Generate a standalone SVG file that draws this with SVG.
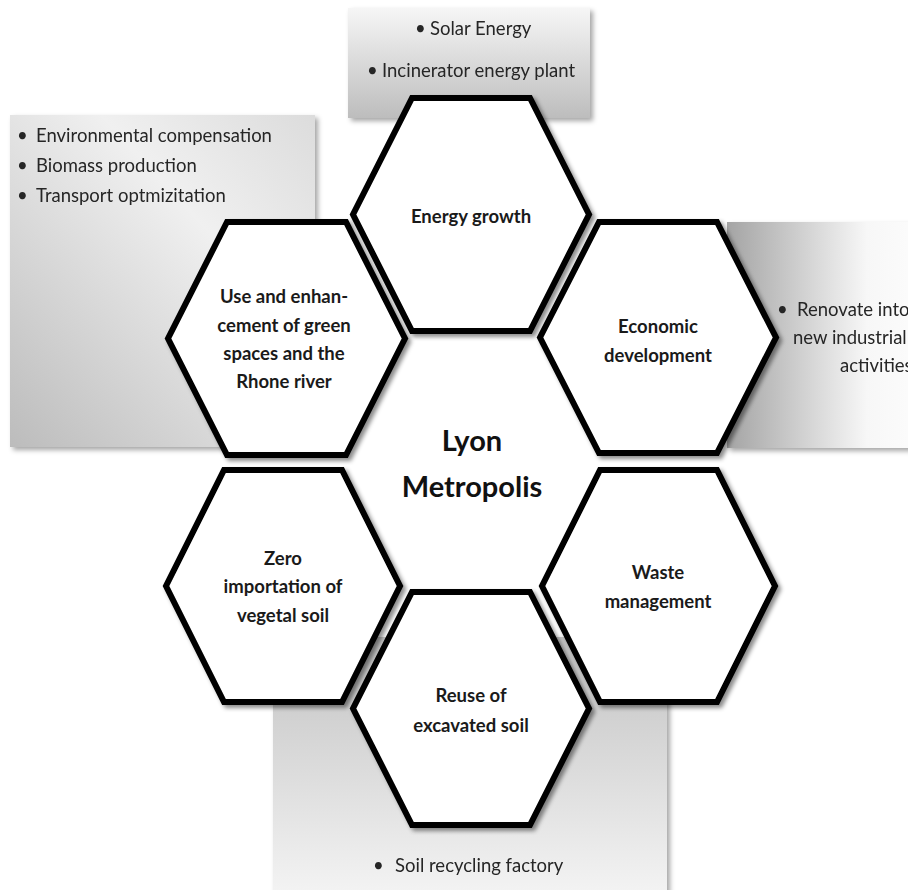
<svg xmlns="http://www.w3.org/2000/svg" width="908" height="890" viewBox="0 0 908 890">
<style>
.hex{fill:#ffffff;stroke:#000000;stroke-width:6;stroke-linejoin:miter;filter:url(#hs)}
.lbl{font-family:Lato,"Open Sans","Liberation Sans",sans-serif;font-weight:bold;font-size:18.5px;fill:#1a1a1a;text-anchor:middle}
.ctr{font-family:Lato,"Open Sans","Liberation Sans",sans-serif;font-weight:bold;font-size:29px;fill:#111111;text-anchor:middle}
.bul{font-family:Lato,"Open Sans","Liberation Sans",sans-serif;font-size:18.5px;fill:#262626}
.box{filter:url(#bs)}
</style>
<defs>
<filter id="hs" x="-10%" y="-10%" width="125%" height="125%">
<feDropShadow dx="3" dy="3" stdDeviation="2" flood-color="#000" flood-opacity="0.45"/>
</filter>
<filter id="bs" x="-5%" y="-5%" width="115%" height="115%">
<feDropShadow dx="3" dy="3" stdDeviation="2.5" flood-color="#000" flood-opacity="0.35"/>
</filter>
<linearGradient id="gTop" x1="0" y1="0" x2="0" y2="1">
<stop offset="0" stop-color="#f6f6f6"/><stop offset="1" stop-color="#bdbdbd"/>
</linearGradient>
<linearGradient id="gLeft" x1="0" y1="1" x2="1" y2="0">
<stop offset="0" stop-color="#bcbcbc"/><stop offset="0.65" stop-color="#f0f0f0"/><stop offset="1" stop-color="#dcdcdc"/>
</linearGradient>
<linearGradient id="gRight" x1="0" y1="0" x2="1" y2="0">
<stop offset="0" stop-color="#a4a4a4"/><stop offset="0.7" stop-color="#f7f7f7"/><stop offset="1" stop-color="#fdfdfd"/>
</linearGradient>
<linearGradient id="gBot" x1="0" y1="0" x2="0" y2="1">
<stop offset="0" stop-color="#c2c2c2"/><stop offset="1" stop-color="#f4f4f4"/>
</linearGradient>
</defs>
<rect width="908" height="890" fill="#ffffff"/>

<g id="box-energy" class="box">
<rect x="348" y="8" width="242" height="110" fill="url(#gTop)"/>
<text class="bul"><tspan x="415" y="35">•</tspan><tspan x="430" y="35">Solar Energy</tspan></text>
<text class="bul"><tspan x="367" y="77">•</tspan><tspan x="382" y="77">Incinerator energy plant</tspan></text>
</g>
<g id="box-green" class="box">
<rect x="10" y="115" width="305" height="332" fill="url(#gLeft)"/>
<text class="bul"><tspan x="17" y="142">•</tspan><tspan x="36" y="142">Environmental compensation</tspan></text>
<text class="bul"><tspan x="17" y="172">•</tspan><tspan x="36" y="172">Biomass production</tspan></text>
<text class="bul"><tspan x="17" y="202">•</tspan><tspan x="36" y="202">Transport optmizitation</tspan></text>
</g>
<g id="box-economic" class="box">
<rect x="727" y="222" width="200" height="226" fill="url(#gRight)"/>
<text class="bul"><tspan x="777" y="316">•</tspan><tspan x="797" y="316">Renovate into</tspan></text>
<text class="bul"><tspan x="793" y="344">new industrial</tspan></text>
<text class="bul"><tspan x="840" y="372">activities</tspan></text>
</g>
<g id="box-soil" class="box">
<rect x="273" y="637" width="394" height="260" fill="url(#gBot)"/>
<text class="bul"><tspan x="373" y="872">•</tspan><tspan x="395" y="872">Soil recycling factory</tspan></text>
</g>

<g id="connectors"></g>

<g id="hex-energy">
<polygon class="hex" points="412,98 530,98 589,214.5 530,331 412,331 353,214.5"/>
<text class="lbl" x="471" y="223">Energy growth</text>
</g>
<g id="hex-green">
<polygon class="hex" points="227,222 346,222 405,338.5 346,455 227,455 168,338.5"/>
<text class="lbl" x="284" y="303">Use and enhan-</text>
<text class="lbl" x="284" y="332">cement of green</text>
<text class="lbl" x="284" y="360">spaces and the</text>
<text class="lbl" x="284" y="388">Rhone river</text>
</g>
<g id="hex-economic">
<polygon class="hex" points="599,222 717,222 776,337.5 717,453 599,453 540,337.5"/>
<text class="lbl" x="658" y="333">Economic</text>
<text class="lbl" x="658" y="362">development</text>
</g>
<g id="hex-zero">
<polygon class="hex" points="224,470 342,470 400,586 342,702 224,702 166,586"/>
<text class="lbl" x="283" y="565">Zero</text>
<text class="lbl" x="283" y="593">importation of</text>
<text class="lbl" x="283" y="622">vegetal soil</text>
</g>
<g id="hex-waste">
<polygon class="hex" points="600,470 717,470 775,586 717,702 600,702 542,586"/>
<text class="lbl" x="658" y="579">Waste</text>
<text class="lbl" x="658" y="608">management</text>
</g>
<g id="hex-reuse">
<polygon class="hex" points="412,592 530,592 589,708.5 530,825 412,825 353,708.5"/>
<text class="lbl" x="471" y="702">Reuse of</text>
<text class="lbl" x="471" y="732">excavated soil</text>
</g>
<g id="center">
<text class="ctr" x="472" y="451">Lyon</text>
<text class="ctr" x="472" y="497">Metropolis</text>
</g>
</svg>
